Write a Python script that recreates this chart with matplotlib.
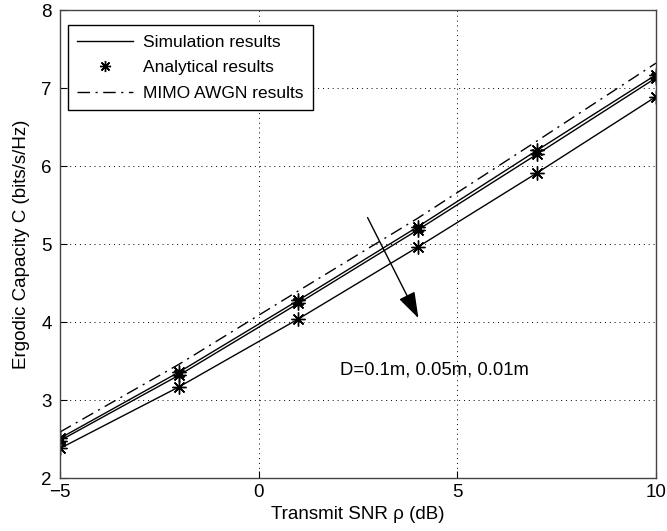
import matplotlib
matplotlib.use("Agg")
import matplotlib.pyplot as plt
from matplotlib.lines import Line2D

plt.rcParams['font.family'] = ['Liberation Sans', 'DejaVu Sans']

snr_db = [-5, -2, 1, 4, 7, 10]
cap_d010 = [2.51, 3.36, 4.28, 5.22, 6.20, 7.17]
cap_d005 = [2.48, 3.32, 4.24, 5.18, 6.15, 7.13]
cap_d001 = [2.38, 3.17, 4.04, 4.96, 5.91, 6.89]
cap_awgn = [2.59, 3.46, 4.40, 5.33, 6.32, 7.32]

xticks = [-5, 0, 5, 10]
yticks = [2, 3, 4, 5, 6, 7, 8]

fig = plt.figure(figsize=(6.67, 5.31), dpi=100)
ax = fig.add_axes([0.09, 0.0998, 0.8935, 0.8812])

star = (8, 2, 0)
for cap in (cap_d010, cap_d005, cap_d001):
    ax.plot(snr_db, cap, color='black', lw=1.0)
    ax.plot(snr_db, cap, linestyle='none', marker=star, ms=10,
            mec='black', mew=1.0, color='black')
ax.plot(snr_db, cap_awgn, color='black', lw=1.0, linestyle=(0, (9, 4, 1.5, 4)))

ax.annotate('', xy=(4.02, 4.05), xytext=(2.74, 5.34),
            arrowprops=dict(arrowstyle='-|>,head_length=0.9,head_width=0.3',
                            color='black', lw=1.0,
                            mutation_scale=18, shrinkA=0, shrinkB=0))
ax.text(2.05, 3.38, 'D=0.1m, 0.05m, 0.01m', fontsize=13.3, va='center', ha='left')

ax.set_xlim(-5, 10)
ax.set_ylim(2, 8)
ax.set_xticks(xticks)
ax.set_yticks(yticks)
ax.set_xticklabels(['\u22125', '0', '5', '10'])
ax.tick_params(direction='in', labelsize=13.5, length=5, width=0.8)
ax.tick_params(axis='y', pad=6)
ax.tick_params(axis='x', pad=4)
ax.grid(True, linestyle=(0, (1, 4)), color='black', lw=0.7)
for s in ax.spines.values():
    s.set_color('#444444')
    s.set_linewidth(1.0)

ax.set_xlabel('Transmit SNR \u03c1 (dB)', fontsize=13.5, labelpad=4)
ax.set_ylabel('Ergodic Capacity C (bits/s/Hz)', fontsize=13.5, labelpad=8)

handles = [
    Line2D([], [], color='black', lw=1.0),
    Line2D([], [], color='black', linestyle='none', marker=star, ms=8, mew=1.0),
    Line2D([], [], color='black', lw=1.0, linestyle=(0, (9, 4, 1.5, 4))),
]
leg = ax.legend(handles, ['Simulation results', 'Analytical results', 'MIMO AWGN results'],
                loc='upper left', bbox_to_anchor=(0.013, 0.968), borderaxespad=0,
                fontsize=12.5, fancybox=False, framealpha=1, edgecolor='black',
                handlelength=3.2, handletextpad=0.6, borderpad=0.55,
                labelspacing=0.6)
leg.get_frame().set_linewidth(1.0)

fig.savefig('out.png', dpi=100)
